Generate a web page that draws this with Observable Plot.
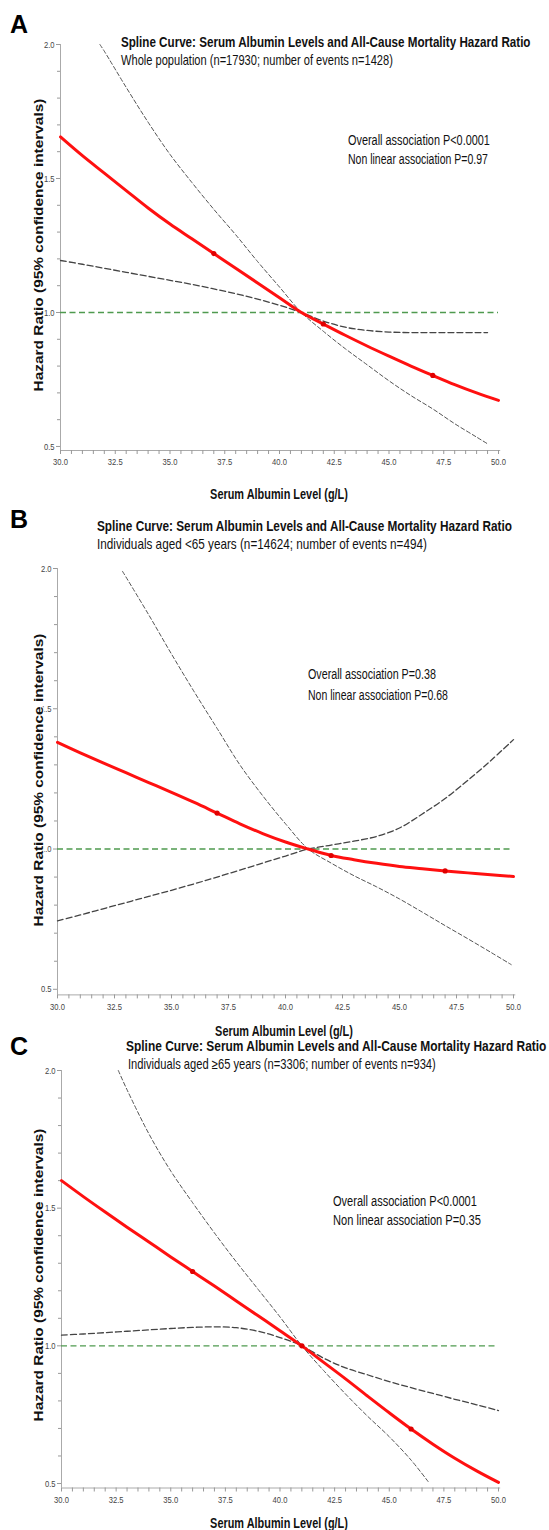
<!DOCTYPE html>
<html><head><meta charset="utf-8">
<script src="https://cdn.jsdelivr.net/npm/d3@7"></script>
<script src="https://cdn.jsdelivr.net/npm/@observablehq/plot@0.6"></script>
<style>
html,body{margin:0;padding:0;background:#fff;}
#page{position:relative;width:549px;height:1530px;overflow:hidden;background:#fff;}
#page .pw{position:absolute;left:0;}
#overlay{position:absolute;left:0;top:0;pointer-events:none;}
g[aria-label="x-axis tick"] path, g[aria-label="y-axis tick"] path{stroke:#999;}
g[aria-label="x-axis tick label"], g[aria-label="y-axis tick label"]{fill:#444;}
</style></head><body><div id="page"></div>
<script>
// ---------- data ----------
const xTicks = [30.0, 32.5, 35.0, 37.5, 40.0, 42.5, 45.0, 47.5, 50.0];
const yTicks = [0.5, 1.0, 1.5, 2.0];
const refHR = 1.0;

// Panel A: whole population
const xA = [30,31,32,33,34,35,36,37,38,39,40,41,42,43,44,45,46,47,48,49,50];
const hrA = [1.655,1.585,1.52,1.455,1.39,1.33,1.275,1.22,1.165,1.11,1.055,1.0,0.957,0.915,0.875,0.837,0.8,0.765,0.731,0.7,0.672];
const xA_ci1 = [31.8,32,33,34,35,36,37,38,39,40,41,42,43,44,45,46,47,48,49,49.5];
const ciA1 = [2.0,1.975,1.84,1.71,1.59,1.485,1.385,1.29,1.19,1.095,1.0,0.93,0.865,0.805,0.745,0.69,0.64,0.585,0.535,0.51];
const xA_ci2 = [30,31,32,33,34,35,36,37,38,39,40,41,42,43,44,45,46,47,48,49,49.5];
const ciA2 = [1.194,1.18,1.165,1.15,1.135,1.12,1.105,1.088,1.07,1.05,1.027,1.0,0.968,0.945,0.933,0.927,0.925,0.925,0.925,0.925,0.925];
const knotsA = [37, 42, 47];

// Panel B: aged <65
const xB = [30,31,32,33,34,35,36,37,38,39,40,41,42,43,44,45,46,47,48,49,50];
const hrB = [1.38,1.343,1.307,1.272,1.237,1.202,1.166,1.128,1.09,1.055,1.025,1.0,0.977,0.962,0.949,0.938,0.93,0.922,0.915,0.908,0.902];
const xB_ci1 = [32.85,33,34,35,36,37,38,39,40,41,42,43,44,45,46,47,48,49,49.9];
const ciB1 = [1.99,1.97,1.835,1.695,1.56,1.43,1.30,1.19,1.09,1.0,0.95,0.905,0.865,0.822,0.775,0.727,0.68,0.632,0.588];
const xB_ci2 = [30,31,32,33,34,35,36,37,38,39,40,41,42,43,44,45,46,47,48,49,50];
const ciB2 = [0.744,0.765,0.787,0.809,0.831,0.853,0.876,0.9,0.925,0.95,0.975,1.0,1.014,1.028,1.045,1.075,1.125,1.18,1.245,1.315,1.39];
const knotsB = [37, 42, 47];

// Panel C: aged >=65
const xC = [30,31,32,33,34,35,36,37,38,39,40,41,42,43,44,45,46,47,48,49,50];
const hrC = [1.6,1.542,1.486,1.431,1.377,1.323,1.27,1.217,1.163,1.109,1.055,1.0,0.94,0.88,0.818,0.757,0.698,0.643,0.592,0.546,0.504];
const xC_ci1 = [32.6,33,34,35,36,37,38,39,40,41,42,43,44,45,46,46.8];
const ciC1 = [2.0,1.93,1.77,1.635,1.52,1.41,1.305,1.205,1.105,1.0,0.91,0.825,0.745,0.67,0.585,0.505];
const xC_ci2 = [30,31,32,33,34,35,36,37,38,39,40,41,42,43,44,45,46,47,48,49,50];
const ciC2 = [1.039,1.043,1.048,1.053,1.058,1.063,1.067,1.069,1.066,1.053,1.03,1.0,0.955,0.92,0.895,0.87,0.848,0.827,0.806,0.786,0.765];
const knotsC = [36, 41, 46];

// texts
const mainTitle = "Spline Curve: Serum Albumin Levels and All-Cause Mortality Hazard Ratio";
const subtitles = ["Whole population  (n=17930; number of events n=1428)",
  "Individuals  aged <65 years (n=14624; number of events n=494)",
  "Individuals  aged \u226565 years (n=3306; number of events n=934)"];
const pOverall = ["Overall association P<0.0001", "Overall association P=0.38", "Overall association P<0.0001"];
const pNonlinear = ["Non linear association P=0.97", "Non linear association P=0.68", "Non linear association P=0.35"];
const panelLetters = ["A", "B", "C"];
const xLabel = "Serum Albumin Level (g/L)";
const yLabel = "Hazard Ratio (95% confidence intervals)";

// ---------- layout ----------
const SANS = "'Liberation Sans',Arial,sans-serif";
const page = document.getElementById("page");
const toRows = (xs, ys) => xs.map((x, i) => ({x, y: ys[i]}));

const panels = [
  {top: 0, height: 482, mTop: 44, mBottom: 32, mLeft: 60, mRight: 51, yMin: 0.485,
   est: toRows(xA, hrA), c1: toRows(xA_ci1, ciA1), c2: toRows(xA_ci2, ciA2), knots: knotsA},
  {top: 540, height: 484, mTop: 28, mBottom: 29.6, mLeft: 57, mRight: 36, yMin: 0.48,
   est: toRows(xB, hrB), c1: toRows(xB_ci1, ciB1), c2: toRows(xB_ci2, ciB2), knots: knotsB},
  {top: 1040, height: 480, mTop: 30, mBottom: 32.5, mLeft: 61, mRight: 51, yMin: 0.4837,
   est: toRows(xC, hrC), c1: toRows(xC_ci1, ciC1), c2: toRows(xC_ci2, ciC2), knots: knotsC}
];

panels.forEach(p => {
  const xMinor = d3.range(30, 50.001, 0.5).filter(v => !xTicks.some(t => Math.abs(t - v) < 1e-6));
  const yMinor = d3.range(0.5, 2.0001, 0.1).filter(v => !yTicks.some(t => Math.abs(t - v) < 1e-6));
  const knotRows = p.est.filter(d => p.knots.includes(d.x));
  const chart = Plot.plot({
    width: 549, height: p.height,
    marginTop: p.mTop, marginBottom: p.mBottom, marginLeft: p.mLeft, marginRight: p.mRight,
    style: {fontFamily: SANS, fontSize: "9.5px", background: "transparent", overflow: "visible"},
    x: {domain: [30, 50], label: null},
    y: {domain: [p.yMin, 2.0], label: null},
    marks: [
      Plot.ruleX([30], {y1: p.yMin, y2: 2.0, stroke: "#aaa", strokeWidth: 1}),
      Plot.ruleY([p.yMin], {x1: 30, x2: 50.1, stroke: "#aaa", strokeWidth: 1}),
      Plot.axisX(xTicks, {anchor: "bottom", tickSize: 4, tickPadding: 4, tickFormat: d3.format(".1f"), label: null}),
      Plot.axisX(xMinor, {anchor: "bottom", tickSize: 4, tickFormat: () => "", label: null}),
      Plot.axisY(yTicks, {anchor: "left", tickSize: 4, tickPadding: 2, tickFormat: d3.format(".1f"), label: null}),
      Plot.axisY(yMinor, {anchor: "left", tickSize: 3, tickFormat: () => "", label: null}),
      Plot.ruleY([refHR], {x1: 30, x2: 50, stroke: "#4f9a4f", strokeWidth: 1.4, strokeDasharray: "6,3.5"}),
      Plot.line(p.c2, {x: "x", y: "y", stroke: "#444", strokeWidth: 1.3, strokeDasharray: "6,3", curve: "catmull-rom"}),
      Plot.line(p.c1, {x: "x", y: "y", stroke: "#555", strokeWidth: 1.0, strokeDasharray: "4,2.5", curve: "catmull-rom"}),
      Plot.line(p.est, {x: "x", y: "y", stroke: "#ff1010", strokeWidth: 3, curve: "catmull-rom"}),
      Plot.dot(knotRows, {x: "x", y: "y", r: 2.6, fill: "#e00000", stroke: "none"})
    ]
  });
  const wrap = document.createElement("div");
  wrap.className = "pw";
  wrap.style.top = p.top + "px";
  wrap.appendChild(chart);
  page.appendChild(wrap);
  // condense tick labels horizontally (narrow look), keeping their positions
  d3.select(wrap).selectAll('g[aria-label="x-axis tick label"] text, g[aria-label="y-axis tick label"] text').each(function() {
    const w = this.getComputedTextLength();
    if (w > 0) {
      this.setAttribute("textLength", (w * 0.8).toFixed(2));
      this.setAttribute("lengthAdjust", "spacingAndGlyphs");
    }
  });
});

// ---------- text overlay ----------
const ov = d3.select(page).append("svg").attr("id", "overlay").attr("width", 549).attr("height", 1530);
function txt(s, o) {
  const t = ov.append("text").text(s)
    .attr("x", 0).attr("y", 0)
    .attr("font-family", SANS)
    .attr("font-size", o.size).attr("font-weight", o.bold ? "bold" : "normal")
    .attr("fill", o.fill || "#111");
  if (o.anchor) t.attr("text-anchor", o.anchor);
  if (o.halo) t.attr("stroke", "#fff").attr("stroke-width", 2.5).attr("paint-order", "stroke");
  let sx = 1;
  if (o.len) {
    const w = t.node().getComputedTextLength();
    if (w > 0) sx = o.len / w;
  }
  const rot = o.rotate ? " rotate(-90)" : "";
  t.attr("transform", `translate(${o.x},${o.y})${rot} scale(${sx},1)`);
  return t;
}
const T = [
  {letter: [10, 33], title: [121, 47, 410], sub: [121, 65, 272], p: [348, 145, 142, 164, 140], ylab: [43, 245], xlab: [279, 499]},
  {letter: [10, 528], title: [97, 531, 415], sub: [97, 549, 330], p: [308, 679, 128, 700, 140], ylab: [43, 780], xlab: [284, 1036]},
  {letter: [10, 1055], title: [126, 1051, 421], sub: [128, 1069, 308], p: [333, 1206, 144, 1225, 148], ylab: [43, 1275], xlab: [279, 1528]}
];
T.forEach((t, i) => {
  txt(panelLetters[i], {x: t.letter[0], y: t.letter[1], size: 25, bold: true, fill: "#000"});
  txt(mainTitle, {x: t.title[0], y: t.title[1], size: 14, bold: true, len: t.title[2]});
  txt(subtitles[i], {x: t.sub[0], y: t.sub[1], size: 14, len: t.sub[2]});
  txt(pOverall[i], {x: t.p[0], y: t.p[1], size: 14.5, len: t.p[2]});
  txt(pNonlinear[i], {x: t.p[0], y: t.p[3], size: 14.5, len: t.p[4]});
  txt(yLabel, {x: t.ylab[0], y: t.ylab[1], size: 13, bold: true, anchor: "middle", rotate: true, len: 293, halo: true});
  txt(xLabel, {x: t.xlab[0], y: t.xlab[1], size: 15.5, bold: true, anchor: "middle", len: 138});
});
</script></body></html>
